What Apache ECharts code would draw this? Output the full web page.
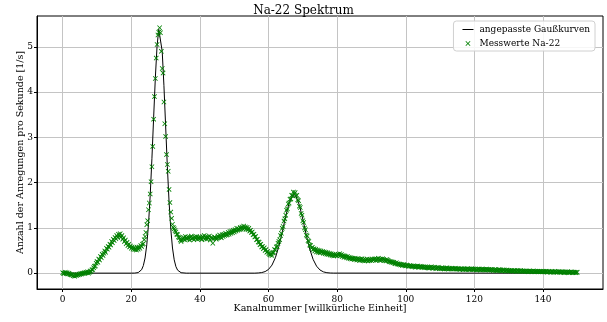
<!DOCTYPE html>
<html><head><meta charset="utf-8">
<script src="https://cdn.jsdelivr.net/npm/echarts@6/dist/echarts.min.js"></script>
<style>html,body{margin:0;padding:0;background:#fff}#c{width:607px;height:322px}</style>
</head><body><div id="c"></div>
<script>
const chartTitle = 'Na-22 Spektrum';
const xAxisName = 'Kanalnummer [willkürliche Einheit]';
const yAxisName = 'Anzahl der Anregungen pro Sekunde [1/s]';
const fitName = 'angepasste Gaußkurven';
const dataName = 'Messwerte Na-22';
const xTicks = [0, 20, 40, 60, 80, 100, 120, 140];
const yTicks = [0, 1, 2, 3, 4, 5];
const channelStart = 0;
const channelStep = 0.25;

// measured counts, one value per 0.25 channel, x = 0 ... 150
const counts = [
  0.01, -0.01, 0.00, 0.02, -0.01, 0.01, -0.02, 0.00, -0.02, -0.03, -0.04, -0.03, -0.06, -0.05, -0.07, -0.04, -0.05, -0.03, -0.04, -0.02,
  -0.03, -0.01, -0.02, 0.00, -0.01, 0.01, 0.00, 0.02, 0.01, 0.03, 0.00, 0.02, 0.05, 0.03, 0.07, 0.08, 0.12, 0.15, 0.16, 0.22,
  0.26, 0.24, 0.31, 0.29, 0.37, 0.34, 0.42, 0.39, 0.44, 0.49, 0.46, 0.55, 0.53, 0.59, 0.57, 0.64, 0.62, 0.70, 0.67, 0.75,
  0.72, 0.79, 0.76, 0.83, 0.79, 0.86, 0.82, 0.87, 0.80, 0.83, 0.75, 0.78, 0.70, 0.73, 0.65, 0.68, 0.61, 0.64, 0.58, 0.60,
  0.55, 0.58, 0.53, 0.56, 0.52, 0.55, 0.51, 0.57, 0.53, 0.58, 0.55, 0.61, 0.59, 0.64, 0.65, 0.74, 0.81, 0.90, 1.07, 1.16,
  1.40, 1.55, 1.75, 2.02, 2.35, 2.80, 3.40, 3.90, 4.30, 4.75, 5.05, 5.26, 5.32, 5.42, 5.31, 4.90, 4.52, 4.42, 3.78, 3.30,
  3.02, 2.62, 2.40, 2.25, 1.85, 1.56, 1.35, 1.21, 1.08, 1.01, 0.98, 0.94, 0.91, 0.86, 0.85, 0.80, 0.78, 0.73, 0.70, 0.73,
  0.76, 0.79, 0.74, 0.81, 0.77, 0.75, 0.80, 0.78, 0.73, 0.79, 0.82, 0.76, 0.78, 0.74, 0.80, 0.77, 0.81, 0.75, 0.79, 0.76,
  0.80, 0.77, 0.74, 0.81, 0.78, 0.83, 0.76, 0.79, 0.75, 0.80, 0.78, 0.82, 0.73, 0.79, 0.77, 0.66, 0.76, 0.80, 0.78, 0.75,
  0.77, 0.82, 0.79, 0.84, 0.80, 0.78, 0.85, 0.81, 0.86, 0.83, 0.88, 0.84, 0.85, 0.90, 0.86, 0.92, 0.88, 0.93, 0.89, 0.95,
  0.91, 0.96, 0.93, 0.99, 0.95, 0.98, 0.96, 1.01, 0.97, 1.02, 0.98, 1.04, 0.99, 1.02, 0.97, 1.01, 0.96, 0.99, 0.93, 0.95,
  0.90, 0.91, 0.85, 0.86, 0.80, 0.81, 0.74, 0.75, 0.69, 0.68, 0.63, 0.64, 0.58, 0.59, 0.54, 0.56, 0.50, 0.52, 0.46, 0.48,
  0.44, 0.42, 0.40, 0.43, 0.39, 0.45, 0.46, 0.52, 0.51, 0.58, 0.59, 0.66, 0.70, 0.74, 0.83, 0.88, 0.99, 1.03, 1.15, 1.20,
  1.28, 1.39, 1.42, 1.53, 1.55, 1.63, 1.64, 1.72, 1.71, 1.79, 1.75, 1.78, 1.71, 1.72, 1.62, 1.60, 1.48, 1.45, 1.32, 1.28,
  1.16, 1.12, 1.00, 0.96, 0.84, 0.82, 0.72, 0.70, 0.62, 0.61, 0.55, 0.57, 0.52, 0.54, 0.49, 0.53, 0.47, 0.51, 0.46, 0.50,
  0.45, 0.49, 0.46, 0.48, 0.44, 0.47, 0.43, 0.46, 0.42, 0.45, 0.41, 0.44, 0.40, 0.43, 0.39, 0.42, 0.38, 0.41, 0.39, 0.40,
  0.38, 0.42, 0.40, 0.43, 0.39, 0.41, 0.37, 0.39, 0.35, 0.38, 0.36, 0.34, 0.37, 0.33, 0.35, 0.32, 0.34, 0.31, 0.33, 0.32,
  0.30, 0.33, 0.31, 0.29, 0.32, 0.30, 0.28, 0.31, 0.29, 0.32, 0.28, 0.30, 0.27, 0.30, 0.28, 0.31, 0.27, 0.29, 0.28, 0.30,
  0.28, 0.31, 0.29, 0.30, 0.32, 0.28, 0.31, 0.29, 0.33, 0.30, 0.28, 0.31, 0.29, 0.32, 0.30, 0.28, 0.29, 0.27, 0.30, 0.28,
  0.27, 0.25, 0.26, 0.24, 0.25, 0.23, 0.24, 0.22, 0.21, 0.23, 0.20, 0.21, 0.19, 0.20, 0.18, 0.19, 0.17, 0.18, 0.19, 0.17,
  0.16, 0.18, 0.17, 0.15, 0.16, 0.17, 0.15, 0.16, 0.14, 0.16, 0.15, 0.13, 0.15, 0.14, 0.16, 0.13, 0.14, 0.15, 0.13, 0.14,
  0.13, 0.14, 0.12, 0.14, 0.13, 0.12, 0.13, 0.11, 0.13, 0.12, 0.14, 0.12, 0.11, 0.13, 0.12, 0.10, 0.12, 0.11, 0.13, 0.11,
  0.11, 0.10, 0.12, 0.10, 0.11, 0.09, 0.11, 0.10, 0.12, 0.10, 0.09, 0.11, 0.10, 0.09, 0.11, 0.10, 0.09, 0.10, 0.11, 0.09,
  0.10, 0.09, 0.10, 0.08, 0.09, 0.10, 0.09, 0.08, 0.10, 0.09, 0.08, 0.09, 0.10, 0.08, 0.09, 0.08, 0.09, 0.10, 0.08, 0.09,
  0.08, 0.09, 0.08, 0.07, 0.09, 0.08, 0.09, 0.07, 0.08, 0.09, 0.07, 0.08, 0.08, 0.07, 0.09, 0.08, 0.07, 0.08, 0.07, 0.08,
  0.07, 0.08, 0.06, 0.07, 0.08, 0.06, 0.07, 0.06, 0.07, 0.08, 0.06, 0.07, 0.05, 0.07, 0.06, 0.07, 0.05, 0.06, 0.07, 0.05,
  0.06, 0.05, 0.06, 0.05, 0.06, 0.04, 0.05, 0.06, 0.05, 0.04, 0.06, 0.05, 0.04, 0.05, 0.06, 0.04, 0.05, 0.04, 0.05, 0.04,
  0.04, 0.05, 0.04, 0.03, 0.05, 0.04, 0.04, 0.03, 0.04, 0.05, 0.03, 0.04, 0.04, 0.03, 0.04, 0.03, 0.04, 0.03, 0.04, 0.03,
  0.03, 0.04, 0.03, 0.03, 0.04, 0.02, 0.03, 0.04, 0.03, 0.02, 0.03, 0.03, 0.02, 0.03, 0.04, 0.02, 0.03, 0.02, 0.03, 0.03,
  0.02, 0.03, 0.02, 0.03, 0.02, 0.01, 0.03, 0.02, 0.02, 0.03, 0.01, 0.02, 0.02, 0.03, 0.02, 0.01, 0.02, 0.02, 0.01, 0.02,
  0.02
];

// fitted Gaussian curves (sampled)
const fitX = [0, 20, 21, 22, 22.5, 23, 23.5, 24, 24.5, 25, 25.5, 26, 26.5, 27, 27.5, 28, 28.2, 28.5, 29, 29.5, 30, 30.5, 31, 31.5, 32, 32.5, 33, 33.5, 34, 34.5, 35, 36, 37,
  56, 57, 58, 59, 60, 61, 62, 63, 64, 65, 66, 67, 67.4, 68, 69, 70, 71, 72, 73, 74, 75, 76, 77, 78, 79, 150];
const fitY = [0, 0, 0.0015, 0.0127, 0.032, 0.076, 0.166, 0.335, 0.625, 1.078, 1.716, 2.527, 3.435, 4.32, 5.017, 5.385, 5.42, 5.345, 4.899, 4.15, 3.25, 2.354, 1.573, 0.972, 0.555, 0.294, 0.143, 0.065, 0.027, 0.010, 0.004, 0.0003, 0,
  0, 0.0043, 0.0128, 0.0343, 0.0826, 0.178, 0.342, 0.590, 0.910, 1.256, 1.551, 1.715, 1.73, 1.696, 1.501, 1.188, 0.842, 0.534, 0.303, 0.154, 0.070, 0.028, 0.010, 0.0034, 0.001, 0];

const measured = counts.map((v, i) => [channelStart + i * channelStep, v]);
const fitted = fitX.map((x, i) => [x, fitY[i]]);

const FONT = 'DejaVu Serif';
const crossPath = 'path://M0,1.2 L1.2,0 L5,3.8 L8.8,0 L10,1.2 L6.2,5 L10,8.8 L8.8,10 L5,6.2 L1.2,10 L0,8.8 L3.8,5 Z';

const chart = echarts.init(document.getElementById('c'), null, {renderer: 'canvas'});
chart.setOption({
  animation: false,
  backgroundColor: '#fff',
  title: {
    text: chartTitle, left: 'center', top: 0,
    textStyle: {fontFamily: FONT, fontSize: 12, fontWeight: 'normal', color: '#000'}
  },
  legend: {
    orient: 'vertical', right: 12, top: 21,
    padding: [4, 5, 3, 9], itemGap: 5, itemWidth: 11, itemHeight: 5,
    borderColor: '#d0d0d0', borderWidth: 1, borderRadius: 3,
    backgroundColor: 'rgba(255,255,255,0.85)',
    textStyle: {fontFamily: FONT, fontSize: 9, color: '#000', padding: [0, 0, 0, 1]},
    data: [
      {name: fitName, icon: 'path://M0,2 L11,2 L11,3 L0,3 Z', itemStyle: {color: '#000'}},
      {name: dataName, icon: crossPath, itemStyle: {color: '#008000'}}
    ]
  },
  grid: {left: 37, right: 4, top: 16, bottom: 33, show: true, borderColor: '#000', borderWidth: 1, containLabel: false},
  xAxis: {
    type: 'value', min: -7.5, max: 157.5,
    name: xAxisName, nameLocation: 'middle', nameGap: 15, nameMoveOverlap: false,
    nameTextStyle: {fontFamily: FONT, fontSize: 9.5, color: '#000'},
    axisLine: {show: true, onZero: false, lineStyle: {color: '#000', width: 1}},
    axisTick: {show: true, inside: false, length: 3, customValues: xTicks, lineStyle: {color: '#000'}},
    axisLabel: {customValues: xTicks, margin: 6, fontFamily: FONT, fontSize: 9, color: '#000'},
    splitLine: {show: true, lineStyle: {color: '#c4c4c4', width: 1}}
  },
  yAxis: {
    type: 'value', min: -0.35, max: 5.68,
    name: yAxisName, nameLocation: 'middle', nameGap: 11, nameMoveOverlap: false,
    nameTextStyle: {fontFamily: FONT, fontSize: 9.5, color: '#000'},
    axisLine: {show: true, onZero: false, lineStyle: {color: '#000', width: 1}},
    axisTick: {show: true, inside: false, length: 3, customValues: yTicks, lineStyle: {color: '#000'}},
    axisLabel: {customValues: yTicks, margin: 4, fontFamily: FONT, fontSize: 9, color: '#000'},
    splitLine: {show: true, lineStyle: {color: '#c4c4c4', width: 1}}
  },
  series: [
    {
      name: fitName, type: 'line', data: fitted, showSymbol: false, symbol: 'none',
      lineStyle: {color: '#000', width: 1}, itemStyle: {color: '#000'}, z: 2, silent: true
    },
    {
      name: dataName, type: 'scatter', data: measured, symbol: crossPath, symbolSize: 5,
      itemStyle: {color: '#008000', opacity: 1}, z: 3, silent: true
    }
  ]
});
</script></body></html>
